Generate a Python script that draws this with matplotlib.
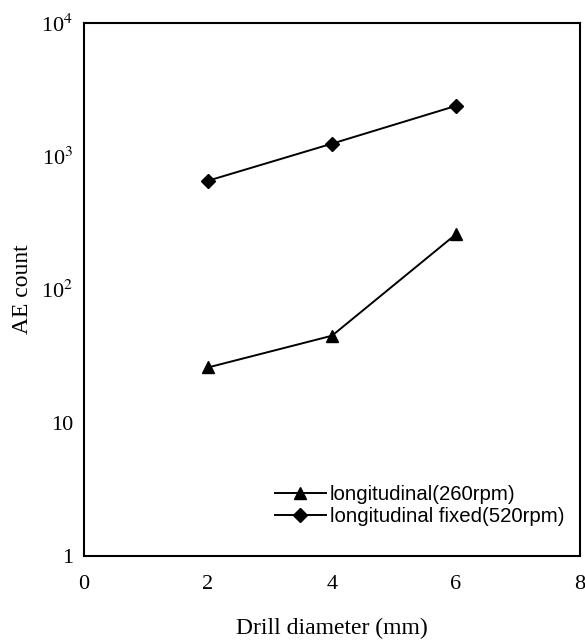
import matplotlib
matplotlib.use("Agg")
import matplotlib.pyplot as plt

# data
diameter = [2, 4, 6]
ae_260 = [26, 45, 260]
ae_520 = [655, 1243, 2389]
labels = ['longitudinal(260rpm)', 'longitudinal fixed(520rpm)']

yticks = [1, 10, 100, 1000, 10000]
yticklabels = ['1', '10', r'10$^2$', r'10$^3$', r'10$^4$']
xticks = [0, 2, 4, 6, 8]

plt.rcParams['font.family'] = 'Liberation Serif'
plt.rcParams['mathtext.fontset'] = 'stix'

fig = plt.figure(figsize=(5.85, 6.44), dpi=100)
ax = fig.add_axes([84 / 585, 1 - 556 / 644, 496 / 585, 533 / 644])

ax.plot(diameter, ae_260, color='black', lw=1.4, marker='^', ms=9,
        label=labels[0])
ax.plot(diameter, ae_520, color='black', lw=1.4, marker='D', ms=7,
        label=labels[1])

ax.set_yscale('log')
ax.set_xlim(0, 8)
ax.set_ylim(1, 10000)
ax.set_xticks(xticks)
ax.set_xticklabels([str(x) for x in xticks])
ax.set_yticks(yticks)
ax.set_yticklabels(yticklabels)
ax.minorticks_off()
ax.tick_params(axis='both', length=0, labelsize=16)
ax.tick_params(axis='x', pad=14)
ax.tick_params(axis='y', pad=8)
for s in ax.spines.values():
    s.set_linewidth(1.5)

ax.set_xlabel('Drill diameter (mm)', fontsize=17, labelpad=17)
ax.set_ylabel('AE count', fontsize=17, labelpad=6)

ax.legend(loc='upper left', bbox_to_anchor=(0.385, 0.133), frameon=False,
          numpoints=1, handlelength=2.5, handletextpad=0.2,
          labelspacing=0.15, borderpad=0, borderaxespad=0,
          prop={'family': 'Liberation Sans', 'size': 14.7})

fig.savefig('out.png', dpi=100)
